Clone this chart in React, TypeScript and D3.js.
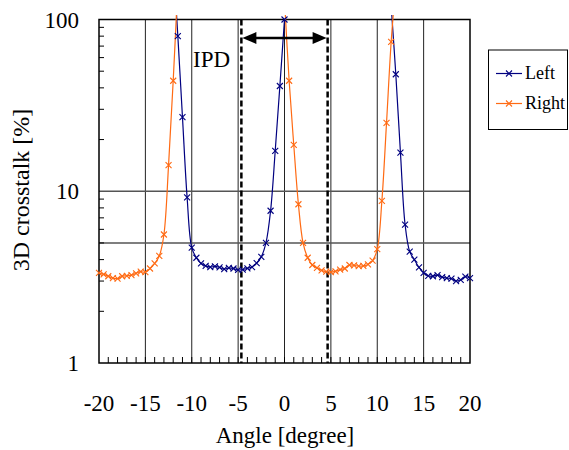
import React from 'react'
import * as d3 from 'd3'

// Crosstalk vs angle
const orangeAngles1 = [-20, -19.5, -19, -18.5, -18, -17.5, -17, -16.5, -16, -15.5, -15, -14.5, -14, -13.5, -13, -12.5, -12, -11.5]
const orangeValues1 = [3.35, 3.28, 3.2, 3.12, 3.1, 3.2, 3.22, 3.25, 3.33, 3.4, 3.38, 3.55, 3.8, 4.2, 5.6, 14.2, 44, 160]

const blueAngles1 = [-12, -11.5, -11, -10.5, -10, -9.5, -9, -8.5, -8, -7.5, -7, -6.5, -6, -5.5, -5, -4.5, -4, -3.5, -3, -2.5, -2, -1.5, -1, -0.5, 0]
const blueValues1 = [220, 80, 27, 9.2, 4.7, 4.1, 3.8, 3.68, 3.62, 3.65, 3.6, 3.52, 3.58, 3.55, 3.48, 3.5, 3.56, 3.62, 3.82, 4.15, 5.0, 7.7, 17.2, 41, 100]

const orangeAngles2 = [0, 0.5, 1, 1.5, 2, 2.5, 3, 3.5, 4, 4.5, 5, 5.5, 6, 6.5, 7, 7.5, 8, 8.5, 9, 9.5, 10, 10.5, 11, 11.5, 12]
const orangeValues2 = [130, 44, 18.6, 8.4, 5.0, 4.1, 3.72, 3.58, 3.46, 3.4, 3.38, 3.42, 3.5, 3.55, 3.72, 3.7, 3.66, 3.68, 3.75, 3.95, 4.6, 8.8, 25, 74, 160]

const blueAngles2 = [11.5, 12, 12.5, 13, 13.5, 14, 14.5, 15, 15.5, 16, 16.5, 17, 17.5, 18, 18.5, 19, 19.5, 20]
const blueValues2 = [120, 48, 16.8, 6.4, 4.45, 4.0, 3.6, 3.35, 3.22, 3.2, 3.25, 3.16, 3.12, 3.1, 3.0, 3.05, 3.18, 3.12]

const xTickLabels = [-20, -15, -10, -5, 0, 5, 10, 15, 20]
const yTickLabels = [1, 10, 100]
const vGrid = [-15, -10, -5, 0, 5, 10, 15]
const hGrid = [5, 10]
const ipd = [-4.65, 4.65]

const BLUE = '#000080'
const ORANGE = '#ff6a13'
const FONT = '"Liberation Serif", "Times New Roman", serif'

const W = 569
const H = 450
const left = 99
const right = 470
const top = 19.5
const bottom = 363

const App = () => {
  const x = d3.scaleLinear().domain([-20, 20]).range([left, right])
  const y = d3.scaleLog().domain([1, 100]).range([bottom, top])

  const line = d3.line<[number, number]>()
    .x(d => x(d[0]))
    .y(d => y(d[1]))
    .curve(d3.curveCatmullRom.alpha(0.5))

  const zip = (a: number[], v: number[]) => a.map((d, i) => [d, v[i]] as [number, number])

  const series = [
    { color: BLUE, pts: zip(blueAngles1, blueValues1) },
    { color: BLUE, pts: zip(blueAngles2, blueValues2) },
    { color: ORANGE, pts: zip(orangeAngles1, orangeValues1) },
    { color: ORANGE, pts: zip(orangeAngles2, orangeValues2) }
  ]

  const minorY = d3.range(2, 10).concat(d3.range(20, 100, 10))
  const minorX = d3.range(-19, 20, 1)

  const cross = (cx: number, cy: number, color: string, key: string) => (
    <path key={key} d={`M${cx - 3},${cy - 3}L${cx + 3},${cy + 3}M${cx - 3},${cy + 3}L${cx + 3},${cy - 3}`}
      stroke={color} strokeWidth={1.1} fill="none" />
  )

  const arrowY = 38
  const ax0 = x(ipd[0])
  const ax1 = x(ipd[1])

  return (
    <svg width={W} height={H} style={{ position: 'absolute', left: 0, top: 0, background: '#fff' }}
      fontFamily={FONT}>
      <defs>
        <clipPath id="plotClip">
          <rect x={left - 6} y={15} width={right - left + 12} height={bottom - 15} />
        </clipPath>
      </defs>

      {/* grid */}
      {vGrid.map(v => (
        <line key={'vg' + v} x1={x(v)} x2={x(v)} y1={top} y2={bottom} stroke="#222" strokeWidth={1} />
      ))}
      {hGrid.map(v => (
        <line key={'hg' + v} x1={left} x2={right} y1={y(v)} y2={y(v)} stroke="#555" strokeWidth={1.4} />
      ))}

      {/* minor ticks */}
      {minorY.map(v => (
        <line key={'my' + v} x1={left} x2={left + 5} y1={y(v)} y2={y(v)} stroke="#000" strokeWidth={1} />
      ))}
      {minorX.map(v => (
        <line key={'mx' + v} x1={x(v)} x2={x(v)} y1={bottom} y2={bottom - 6} stroke="#000" strokeWidth={1} />
      ))}

      {/* IPD dashed lines */}
      {ipd.map(v => (
        <line key={'ipd' + v} x1={x(v)} x2={x(v)} y1={top} y2={bottom} stroke="#000"
          strokeWidth={2.5} strokeDasharray="6,3" />
      ))}

      {/* frame */}
      <rect x={left} y={top} width={right - left} height={bottom - top} fill="none" stroke="#000" strokeWidth={1.5} />

      {/* series */}
      <g clipPath="url(#plotClip)">
        {series.map((s, i) => (
          <path key={'s' + i} d={line(s.pts) || ''} fill="none" stroke={s.color} strokeWidth={1.2} />
        ))}
      </g>
      {series.map((s, i) => s.pts.filter(p => p[1] <= 100.5).map((p, j) =>
        cross(x(p[0]), y(p[1]), s.color, `m${i}-${j}`)
      ))}

      {/* double arrow */}
      <line x1={ax0 + 12} x2={ax1 - 12} y1={arrowY} y2={arrowY} stroke="#000" strokeWidth={2.5} />
      <path d={`M${ax0 + 1},${arrowY} L${ax0 + 15},${arrowY - 6} L${ax0 + 15},${arrowY + 6} Z`} fill="#000" />
      <path d={`M${ax1 - 1},${arrowY} L${ax1 - 15},${arrowY - 6} L${ax1 - 15},${arrowY + 6} Z`} fill="#000" />
      <text x={193} y={67} fontSize={23} fill="#000">IPD</text>

      {/* axis labels */}
      {yTickLabels.map(v => (
        <text key={'yl' + v} x={79} y={y(v)} dy="0.35em" textAnchor="end" fontSize={23} fill="#000">{v}</text>
      ))}
      {xTickLabels.map(v => (
        <text key={'xl' + v} x={x(v)} y={411} textAnchor="middle" fontSize={23} fill="#000">{v}</text>
      ))}
      <text x={285} y={443} textAnchor="middle" fontSize={23} fill="#000">Angle [degree]</text>
      <text transform="translate(29,190) rotate(-90)" textAnchor="middle" fontSize={24} fill="#000">3D crosstalk [%]</text>

      {/* legend */}
      <rect x={488.5} y={50} width={79} height={79.5} fill="#fff" stroke="#000" strokeWidth={1} />
      {[{ label: 'Left', color: BLUE, ly: 73.5 }, { label: 'Right', color: ORANGE, ly: 103.5 }].map(d => (
        <g key={d.label}>
          <line x1={496} x2={522} y1={d.ly} y2={d.ly} stroke={d.color} strokeWidth={1.2} />
          {cross(509, d.ly, d.color, 'lg' + d.label)}
          <text x={525} y={d.ly} dy="0.33em" fontSize={18} fill="#000">{d.label}</text>
        </g>
      ))}
    </svg>
  )
}

export default App
